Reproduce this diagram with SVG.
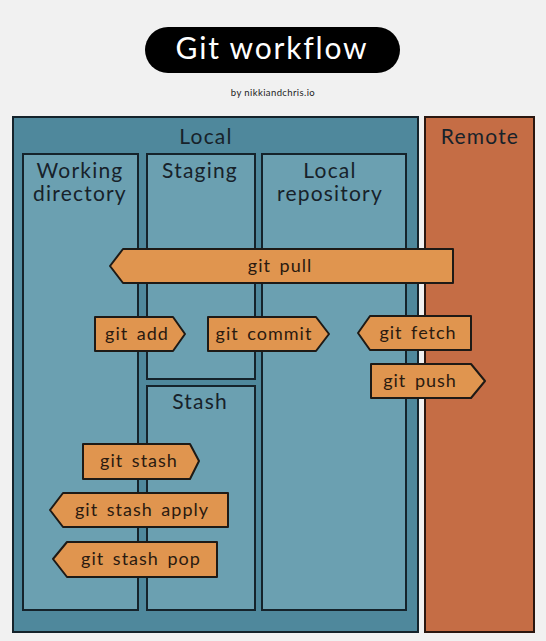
<svg xmlns="http://www.w3.org/2000/svg" width="546" height="641" viewBox="0 0 546 641">
<style>
.bg{fill:#f1f1f1}
.outer{fill:#4f889c;stroke:#15232b;stroke-width:2}
.inner{fill:#6ba0b1;stroke:#15232b;stroke-width:2}
.remote{fill:#c56d45;stroke:#2a1710;stroke-width:2}
.arr{fill:#e0954f;stroke:#1e1a16;stroke-width:2;stroke-linejoin:round}
.h{font-family:"Lato","Open Sans",sans-serif;font-size:21px;fill:#17222a;text-anchor:middle;letter-spacing:1.2px}
.t{font-family:"Lato","Open Sans",sans-serif;font-size:18px;fill:#2a1a10;text-anchor:middle;letter-spacing:1px;word-spacing:3px}
</style>
<rect class="bg" x="0" y="0" width="546" height="641"/>
<g id="title">
<rect x="145" y="27" width="255" height="46" rx="23" fill="#000"/>
<text x="272" y="59" font-family="Lato,'Open Sans',sans-serif" font-size="30" fill="#fff" text-anchor="middle" letter-spacing="1.8">Git workflow</text>
<text x="273" y="96" font-family="Lato,'Open Sans',sans-serif" font-size="9.5" fill="#222" text-anchor="middle" letter-spacing="0.4">by nikkiandchris.io</text>
</g>
<g id="local">
<rect class="outer" x="13" y="117" width="405" height="515"/>
<text class="h" x="206" y="144">Local</text>
</g>
<g id="remote">
<rect class="remote" x="425" y="117" width="109" height="515"/>
<text class="h" x="480" y="144">Remote</text>
</g>
<g id="working-directory">
<rect class="inner" x="23" y="154" width="115" height="456"/>
<text class="h" x="80" y="178">Working</text>
<text class="h" x="80" y="201">directory</text>
</g>
<g id="staging">
<rect class="inner" x="147" y="154" width="108" height="225"/>
<text class="h" x="200" y="178">Staging</text>
</g>
<g id="stash">
<rect class="inner" x="147" y="386" width="108" height="224"/>
<text class="h" x="200" y="409">Stash</text>
</g>
<g id="local-repository">
<rect class="inner" x="262" y="154" width="144" height="456"/>
<text class="h" x="330" y="178">Local</text>
<text class="h" x="330" y="201">repository</text>
</g>
<g id="connectors">
<g id="git-pull"><polygon class="arr" points="123,249 453,249 453,283 123,283 110,266"/><text class="t" x="280" y="272">git pull</text></g>
<g id="git-add"><polygon class="arr" points="95,317 173,317 185,334 173,351 95,351"/><text class="t" x="137" y="340">git add</text></g>
<g id="git-commit"><polygon class="arr" points="208,317 316,317 329,334 316,351 208,351"/><text class="t" x="264" y="340">git commit</text></g>
<g id="git-fetch"><polygon class="arr" points="370,316 471,316 471,350 370,350 358,333"/><text class="t" x="418" y="339">git fetch</text></g>
<g id="git-push"><polygon class="arr" points="371,364 471,364 485,381 471,398 371,398"/><text class="t" x="420" y="387">git push</text></g>
<g id="git-stash"><polygon class="arr" points="83,444 190,444 199,461 190,479 83,479"/><text class="t" x="139" y="467">git stash</text></g>
<g id="git-stash-apply"><polygon class="arr" points="63,493 228,493 228,527 63,527 50,510"/><text class="t" x="142" y="516">git stash apply</text></g>
<g id="git-stash-pop"><polygon class="arr" points="67,542 217,542 217,577 67,577 53,559"/><text class="t" x="141" y="565">git stash pop</text></g>
</g>
</svg>
